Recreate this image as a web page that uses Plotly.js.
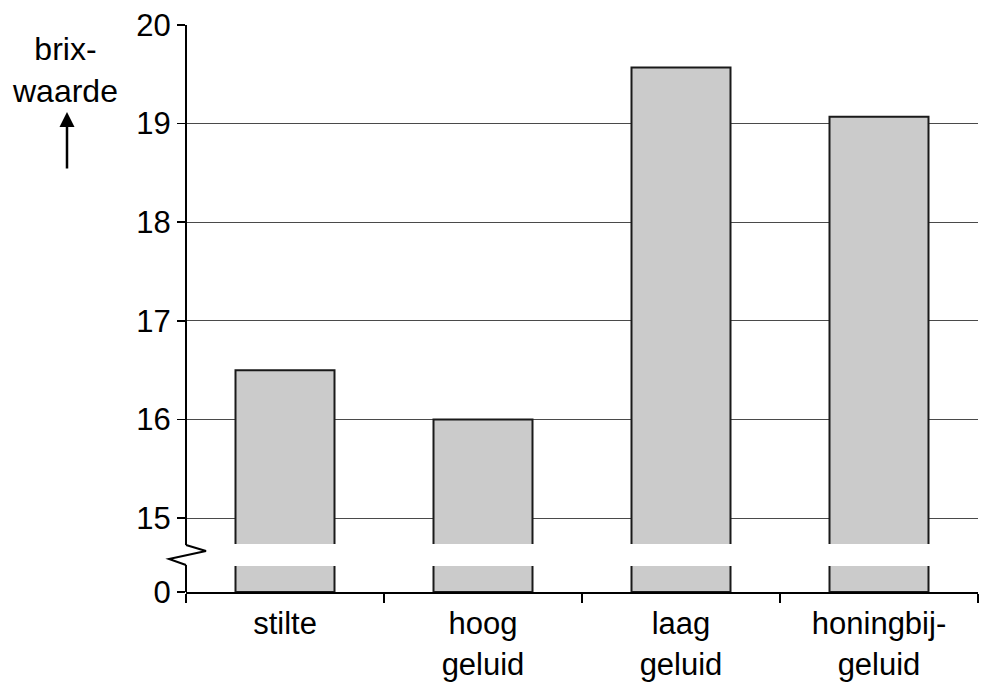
<!DOCTYPE html>
<html>
<head>
<meta charset="utf-8">
<script src="https://cdn.plot.ly/plotly-3.0.1.min.js"></script>
<style>html,body{margin:0;padding:0;background:#fff;}#chart{width:992px;height:690px;}</style>
</head>
<body>
<div id="chart"></div>
<script>
// Data
const categories = ["stilte", "hoog<br>geluid", "laag<br>geluid", "honingbij-<br>geluid"];
const brixValues = [16.5, 16.0, 19.57, 19.07];
const tickValuesReal = [0, 15, 16, 17, 18, 19, 20];
const tickLabels = ["0", "15", "16", "17", "18", "19", "20"];

// Broken axis: 0 sits 0.75 units below 15
const BREAK_OFFSET = 14.25;
function toAxis(v) { return v === 0 ? 0 : v - BREAK_OFFSET; }
const yTop = toAxis(20);
const gapLow = 0.264, gapHigh = 0.487;

const FONT = "Liberation Sans, Arial, Helvetica, sans-serif";

const trace = {
  type: "bar",
  x: categories,
  y: brixValues.map(toAxis),
  marker: { color: "#cbcbcb", line: { color: "#1a1a1a", width: 2 } },
  hoverinfo: "skip"
};

const shapes = [
  // white gap through the bars
  { type: "rect", xref: "paper", yref: "y", x0: 0.003, x1: 1, y0: gapLow, y1: gapHigh,
    fillcolor: "#ffffff", line: { width: 0 }, layer: "above" },
  // y-axis line, upper part
  { type: "line", xref: "paper", yref: "y", x0: 0, x1: 0, y0: 0.477, y1: yTop,
    line: { color: "#000", width: 2 }, layer: "above" },
  // y-axis line, lower part
  { type: "line", xref: "paper", yref: "y", x0: 0, x1: 0, y0: 0, y1: 0.274,
    line: { color: "#000", width: 2 }, layer: "above" },
  // zigzag break
  { type: "path", xref: "paper", yref: "y", xsizemode: "pixel", xanchor: 0,
    path: "M0,0.477 L20,0.416 L-17,0.335 L0,0.274",
    line: { color: "#000", width: 2 }, layer: "above" }
];

const layout = {
  width: 992, height: 690,
  margin: { l: 186, r: 14, t: 25, b: 98 },
  paper_bgcolor: "#fff", plot_bgcolor: "#fff",
  showlegend: false,
  bargap: 0.5,
  font: { family: FONT, color: "#000", size: 30 },
  xaxis: {
    type: "category",
    showline: true, linecolor: "#000", linewidth: 2,
    ticks: "outside", tickson: "boundaries", ticklen: 9, tickwidth: 2, tickcolor: "#000",
    ticklabelstandoff: 3,
    showgrid: false, zeroline: false,
    tickfont: { family: FONT, size: 31, color: "#000" }
  },
  yaxis: {
    range: [0, yTop],
    tickmode: "array",
    tickvals: tickValuesReal.map(toAxis),
    ticktext: tickLabels,
    ticks: "outside", ticklen: 8, tickwidth: 1.5, tickcolor: "#000",
    showline: false,
    showgrid: true, gridcolor: "#4a4a4a", gridwidth: 1,
    zeroline: false,
    tickfont: { family: FONT, size: 31, color: "#000" }
  },
  shapes: shapes,
  annotations: [
    { text: "brix-<br>waarde", xref: "paper", yref: "paper",
      x: (65 - 186) / 792, y: (592 - 70) / 567, xanchor: "center", yanchor: "middle",
      showarrow: false, font: { family: FONT, size: 32, color: "#000" } },
    { text: "", xref: "paper", yref: "paper",
      x: (67 - 186) / 792, y: (592 - 112) / 567,
      showarrow: true, ax: 0, ay: 58, arrowhead: 2, arrowsize: 1.2, arrowwidth: 2.5,
      arrowcolor: "#000", standoff: 0 }
  ]
};

Plotly.newPlot("chart", [trace], layout, { displayModeBar: false, staticPlot: true });
</script>
</body>
</html>
